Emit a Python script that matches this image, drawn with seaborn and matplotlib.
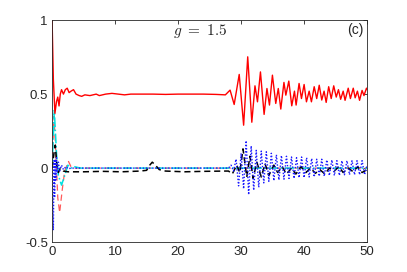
import numpy as np
import pandas as pd
import seaborn as sns
import matplotlib
matplotlib.use("Agg")
import matplotlib.pyplot as plt

# ---------------- data ----------------
red_t = [0.0, 0.2, 0.45, 0.7, 0.9, 1.1, 1.3, 1.5, 1.8, 2.1, 2.4, 2.7, 3.0, 3.4, 3.8, 4.3,
         4.7, 5.2, 6.0, 7.0, 7.5, 8.5, 9.5, 10.5, 11.5, 12.5, 14.0, 16.0, 18.0, 20.0,
         22.0, 24.0, 26.0, 27.5,
         28.25, 28.9, 29.7, 30.4, 31.05, 31.7, 32.2, 32.6, 33.07, 33.65, 34.1, 34.5,
         34.97, 35.5, 35.9, 36.3, 36.8, 37.1, 37.57, 38.04, 38.47, 38.73, 39.2, 39.58,
         40.0, 40.37, 40.8, 41.16, 41.6, 42.0, 42.4, 42.8, 43.17, 43.5, 43.9, 44.3,
         44.7, 45.1, 45.45, 45.8, 46.2, 46.5, 47.0, 47.35, 47.8, 48.1, 48.46, 48.8,
         49.2, 49.5, 49.9, 50.0]
red_v = [1.0, 0.6, 0.37, 0.45, 0.48, 0.42, 0.5, 0.53, 0.5, 0.53, 0.54, 0.51, 0.52, 0.53,
         0.5, 0.49, 0.485, 0.495, 0.49, 0.5, 0.49, 0.5, 0.505, 0.5, 0.495, 0.5, 0.5,
         0.5, 0.498, 0.5, 0.5, 0.5, 0.498, 0.495,
         0.527, 0.43, 0.633, 0.29, 0.752, 0.31, 0.556, 0.448, 0.65, 0.363, 0.538, 0.426,
         0.628, 0.437, 0.538, 0.399, 0.579, 0.493, 0.588, 0.421, 0.52, 0.426, 0.572,
         0.47, 0.565, 0.448, 0.52, 0.448, 0.55, 0.47, 0.56, 0.46, 0.52, 0.444, 0.55,
         0.47, 0.556, 0.48, 0.53, 0.465, 0.52, 0.458, 0.54, 0.47, 0.54, 0.475, 0.52,
         0.458, 0.525, 0.49, 0.54, 0.53]

rdash_t = [0.0, 0.3, 0.6, 0.9, 1.2, 1.6, 2.0, 2.6, 3.0, 3.5, 50.0]
rdash_v = [0.0, 0.35, 0.1, -0.2, -0.3, -0.15, -0.02, 0.045, 0.01, 0.0, 0.0]

cyan_t = [0.0, 0.35, 0.7, 1.0, 1.5, 2.0, 2.5, 3.0, 3.5, 4.5, 50.0]
cyan_v = [0.0, 0.39, 0.1, -0.05, -0.115, -0.05, 0.02, 0.0, 0.01, 0.0, 0.0]

black_t = [0.0, 0.3, 0.5, 0.8, 1.0, 1.3, 1.8, 2.5, 5.0, 8.0, 11.0, 14.0, 15.0, 15.5,
           15.9, 16.4, 17.0, 18.0, 21.0, 24.0, 27.5,
           28.0, 28.6, 29.3, 29.8, 30.3, 30.9, 31.4, 31.9, 32.5, 33.2, 33.8, 34.4, 35.2,
           35.8, 36.5, 37.2, 38.0, 38.7, 39.5, 40.3, 41.0, 41.8, 42.5, 43.3, 44.0, 44.8,
           45.5, 46.2, 47.0, 47.8, 48.5, 49.2, 50.0]
black_v = [0.0, 0.1, 0.155, 0.0, -0.03, 0.0, -0.02, -0.025, -0.025, -0.022, -0.025,
           -0.02, -0.015, 0.02, 0.04, 0.02, -0.01, -0.02, -0.025, -0.022, -0.02,
           -0.02, -0.04, 0.02, -0.03, 0.13, -0.06, 0.08, -0.07, 0.04, -0.06, 0.03, -0.05,
           0.02, -0.03, 0.01, -0.04, 0.0, -0.04, 0.01, -0.03, 0.0, -0.035, -0.01, -0.04,
           0.0, -0.02, 0.01, -0.03, 0.0, -0.025, 0.01, -0.03, -0.01]

blue_t = [0.0, 0.1, 0.2, 0.3, 0.4, 0.5, 0.6, 0.7, 0.8, 1.0, 1.2, 1.5, 1.8, 2.2, 2.6,
          3.0, 4.0, 27.6,
          28.0, 28.4, 28.8, 29.2, 29.6, 30.0, 30.4, 30.8, 31.2, 31.6, 32.0, 32.4, 32.8,
          33.2, 33.6, 34.0, 34.4, 34.8, 35.2, 35.6, 36.0, 36.4, 36.8, 37.2, 37.6, 38.0,
          38.4, 38.8, 39.2, 39.6, 40.0, 40.4, 40.8, 41.2, 41.6, 42.0, 42.4, 42.8, 43.2,
          43.6, 44.0, 44.4, 44.8, 45.2, 45.6, 46.0, 46.4, 46.8, 47.2, 47.6, 48.0, 48.4,
          48.8, 49.2, 49.6, 50.0]
blue_v = [0.0, -0.3, -0.42, 0.05, -0.2, 0.06, -0.08, 0.07, -0.03, 0.04, -0.02, 0.02,
          -0.01, 0.01, -0.005, 0.0, 0.0, 0.0,
          0.0, 0.02, -0.02, 0.06, -0.12, 0.10, -0.14, 0.185, -0.18, 0.15, -0.15, 0.12,
          -0.13, 0.115, -0.10, 0.11, -0.09, 0.10, -0.085, 0.09, -0.08, 0.085, -0.075,
          0.08, -0.07, 0.075, -0.07, 0.07, -0.065, 0.075, -0.065, 0.07, -0.06, 0.065,
          -0.06, 0.06, -0.055, 0.06, -0.055, 0.055, -0.05, 0.055, -0.05, 0.05, -0.05,
          0.05, -0.045, 0.05, -0.045, 0.05, -0.045, 0.05, -0.045, 0.05, -0.045, 0.02]

x_ticks = [0, 10, 20, 30, 40, 50]
y_ticks = [-0.5, 0, 0.5, 1]
y_tick_labels = ["-0.5", "0", "0.5", "1"]
title_text = r"$g\ =\ 1.5$"
panel_text = "(c)"

# ---------------- plot ----------------
sns.set_style("white")
plt.rcParams["font.family"] = ["Liberation Sans", "DejaVu Sans"]
plt.rcParams["mathtext.fontset"] = "cm"

fig = plt.figure(figsize=(4.07, 2.72), dpi=100)
ax = fig.add_axes([0.128, 0.110, 0.774, 0.816])

sns.lineplot(x=rdash_t, y=rdash_v, ax=ax, color="#ff5a5a", linestyle=(0, (5, 3)),
             linewidth=0.9, estimator=None, sort=False)
sns.lineplot(x=cyan_t, y=cyan_v, ax=ax, color="#00e0e0", linestyle="-.",
             linewidth=1.1, estimator=None, sort=False)
sns.lineplot(x=black_t, y=black_v, ax=ax, color="black", linestyle=(0, (4, 2.5)),
             linewidth=1.1, estimator=None, sort=False)
sns.lineplot(x=blue_t, y=blue_v, ax=ax, color="#1a1aff", linestyle=(0, (1, 1.3)),
             linewidth=1.0, estimator=None, sort=False)
sns.lineplot(x=red_t, y=red_v, ax=ax, color="#ff0000", linestyle="-",
             linewidth=1.0, estimator=None, sort=False)

ax.set_xlim(0, 50)
ax.set_ylim(-0.5, 1)
ax.set_xticks(x_ticks)
ax.set_xticklabels([str(v) for v in x_ticks])
ax.set_yticks(y_ticks)
ax.set_yticklabels(y_tick_labels)
ax.set_xlabel("")
ax.set_ylabel("")
ax.tick_params(direction="in", length=3, width=0.6, colors="#262626",
               labelsize=9.5, top=True, right=True, pad=3)
for s in ax.spines.values():
    s.set_visible(True)
    s.set_color("#262626")
    s.set_linewidth(0.6)

ax.text(23.5, 0.925, title_text, fontsize=11, ha="center", va="center")
ax.text(48.2, 0.935, panel_text, fontsize=10, ha="center", va="center")

fig.savefig("out.png", dpi=100, facecolor="white")
